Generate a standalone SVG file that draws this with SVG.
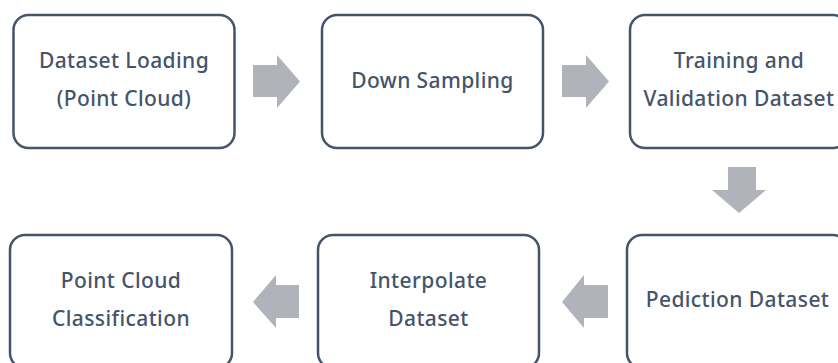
<svg xmlns="http://www.w3.org/2000/svg" width="838" height="363" viewBox="0 0 838 363">
  <style>
    .box { fill: #ffffff; stroke: #44546a; stroke-width: 2.5; }
    .lbl { font-family: "Noto Sans", "Open Sans", sans-serif; font-size: 21px; font-weight: 500; letter-spacing: 0.4px; fill: #44546a; text-anchor: middle; }
    .arrow { fill: #b0b3b9; }
  </style>
  <rect width="838" height="363" fill="#ffffff"/>

  <g id="dataset-loading">
    <rect class="box" x="13.5" y="15" width="221" height="133" rx="15"/>
    <text class="lbl" x="124" y="68">Dataset Loading</text>
    <text class="lbl" x="124" y="106">(Point Cloud)</text>
  </g>

  <g id="down-sampling">
    <rect class="box" x="322" y="15" width="221" height="133" rx="15"/>
    <text class="lbl" x="432.5" y="88">Down Sampling</text>
  </g>

  <g id="training-validation">
    <rect class="box" x="630" y="15" width="218" height="133" rx="15"/>
    <text class="lbl" x="739" y="68">Training and</text>
    <text class="lbl" x="739" y="106">Validation Dataset</text>
  </g>

  <g id="prediction-dataset">
    <rect class="box" x="627" y="235" width="221" height="133" rx="15"/>
    <text class="lbl" x="737.5" y="307">Pediction Dataset</text>
  </g>

  <g id="interpolate-dataset">
    <rect class="box" x="318" y="235" width="221" height="133" rx="15"/>
    <text class="lbl" x="428.5" y="288">Interpolate</text>
    <text class="lbl" x="428.5" y="326">Dataset</text>
  </g>

  <g id="point-cloud-classification">
    <rect class="box" x="10" y="235" width="222" height="133" rx="15"/>
    <text class="lbl" x="121" y="288">Point Cloud</text>
    <text class="lbl" x="121" y="326">Classification</text>
  </g>

  <g id="connectors">
    <polygon class="arrow" points="253,65 277,65 277,55 300,81.5 277,108 277,97 253,97"/>
    <polygon class="arrow" points="562,65 586,65 586,55 609,81.5 586,108 586,97 562,97"/>
    <polygon class="arrow" points="728,167 756,167 756,190 766,190 739,213 712,190 728,190"/>
    <polygon class="arrow" points="608,285 584,285 584,275 562,302 584,328 584,318 608,318"/>
    <polygon class="arrow" points="299,285 276,285 276,275 253,302 276,328 276,318 299,318"/>
  </g>
</svg>
